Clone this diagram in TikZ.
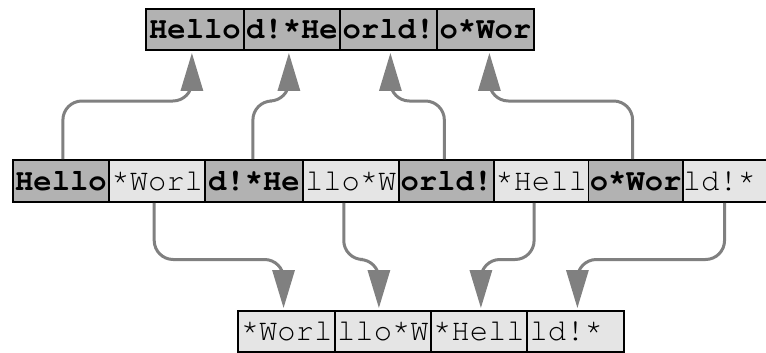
\documentclass[tikz,border=0pt]{standalone}
\usepackage{fontspec}
\setmonofont{TeX Gyre Cursor}
\usetikzlibrary{arrows.meta}
\definecolor{darkcell}{gray}{0.70}
\definecolor{lightcell}{gray}{0.90}
\definecolor{arrowgray}{gray}{0.50}
\begin{document}
\begin{tikzpicture}[x=1pt,y=-1pt,
  cell/.style={draw=black, line width=1.8pt, minimum height=41pt, inner sep=0pt,
    text height=24pt, text depth=6pt, anchor=west, font=\fontsize{30.5}{32}\selectfont\ttfamily},
  dark/.style={cell, fill=darkcell, font=\fontsize{30.5}{32}\selectfont\ttfamily\bfseries},
  light/.style={cell, fill=lightcell},
  conn/.style={draw=arrowgray, line width=3pt, rounded corners=19pt,
    -{Triangle[length=38pt,width=22pt]}},
  tight/.style={rounded corners=11pt}]
\useasboundingbox (0,0) rectangle (766,353);
% top row
\node[dark, minimum width=98pt] (t1) at (145,29.5) {Hello};
\node[dark, minimum width=96pt] (t2) at (243,29.5) {d!*He};
\node[dark, minimum width=97pt] (t3) at (339,29.5) {orld!};
\node[dark, minimum width=97pt] (t4) at (436,29.5) {o*Wor};
% middle row
\node[dark,  minimum width=96.6pt, minimum height=42pt] (m1) at (11.7,181) {Hello};
\node[light, minimum width=96pt,   minimum height=42pt] (m2) at (108.3,181) {*Worl};
\node[dark,  minimum width=97.4pt, minimum height=42pt] (m3) at (204.3,181) {d!*He};
\node[light, minimum width=96.3pt, minimum height=42pt] (m4) at (301.7,181) {llo*W};
\node[dark,  minimum width=94.9pt, minimum height=42pt] (m5) at (398,181) {orld!};
\node[light, minimum width=94.6pt, minimum height=42pt] (m6) at (492.9,181) {*Hell};
\node[dark,  minimum width=94.4pt, minimum height=42pt] (m7) at (587.5,181) {o*Wor};
\node[light, minimum width=83.1pt, minimum height=42pt] (m8) at (681.9,181) {ld!*\hphantom{ }};
% bottom row
\node[light, minimum width=96.7pt] (b1) at (237.3,331.5) {*Worl};
\node[light, minimum width=96pt]   (b2) at (334,331.5) {llo*W};
\node[light, minimum width=96pt]   (b3) at (430,331.5) {*Hell};
\node[light, minimum width=97pt]   (b4) at (526,331.5) {ld!*\hphantom{ }};
% helper levels
\coordinate (hu) at (0,101);
\coordinate (hd) at (0,259.5);
% upward connectors
\draw[conn] ([xshift=2pt]m1.north) -- ([xshift=2pt]m1.north |- hu) -- ([xshift=-3pt]t1.south |- hu) [tight] -- ([xshift=-3pt,yshift=-2pt]t1.south);
\draw[conn] ([xshift=-1pt]m3.north) -- ([xshift=-1pt]m3.north |- hu) -- ([xshift=-3pt]t2.south |- hu) [tight] -- ([xshift=-3pt,yshift=-2pt]t2.south);
\draw[conn] ([xshift=-2pt]m5.north) -- ([xshift=-2pt]m5.north |- hu) -- ([xshift=2pt]t3.south |- hu) [tight] -- ([xshift=2pt,yshift=-2pt]t3.south);
\draw[conn] ([xshift=-3pt]m7.north) -- ([xshift=-3pt]m7.north |- hu) -- ([xshift=4pt]t4.south |- hu) [tight] -- ([xshift=4pt,yshift=-2pt]t4.south);
% downward connectors
\draw[conn] ([xshift=-3pt]m2.south) -- ([xshift=-3pt]m2.south |- hd) -- ([xshift=-3pt]b1.north |- hd) [tight] -- ([xshift=-3pt,yshift=2pt]b1.north);
\draw[conn] ([xshift=-7pt]m4.south) -- ([xshift=-7pt]m4.south |- hd) -- ([xshift=-4pt]b2.north |- hd) [tight] -- ([xshift=-4pt,yshift=2pt]b2.north);
\draw[conn] ([xshift=-7pt]m6.south) -- ([xshift=-7pt]m6.south |- hd) -- ([xshift=2pt]b3.north |- hd) [tight] -- ([xshift=2pt,yshift=2pt]b3.north);
\draw[conn] ([xshift=-4pt]m8.south) -- ([xshift=-4pt]m8.south |- hd) -- ([xshift=2pt]b4.north |- hd) [tight] -- ([xshift=2pt,yshift=2pt]b4.north);
\end{tikzpicture}
\end{document}
